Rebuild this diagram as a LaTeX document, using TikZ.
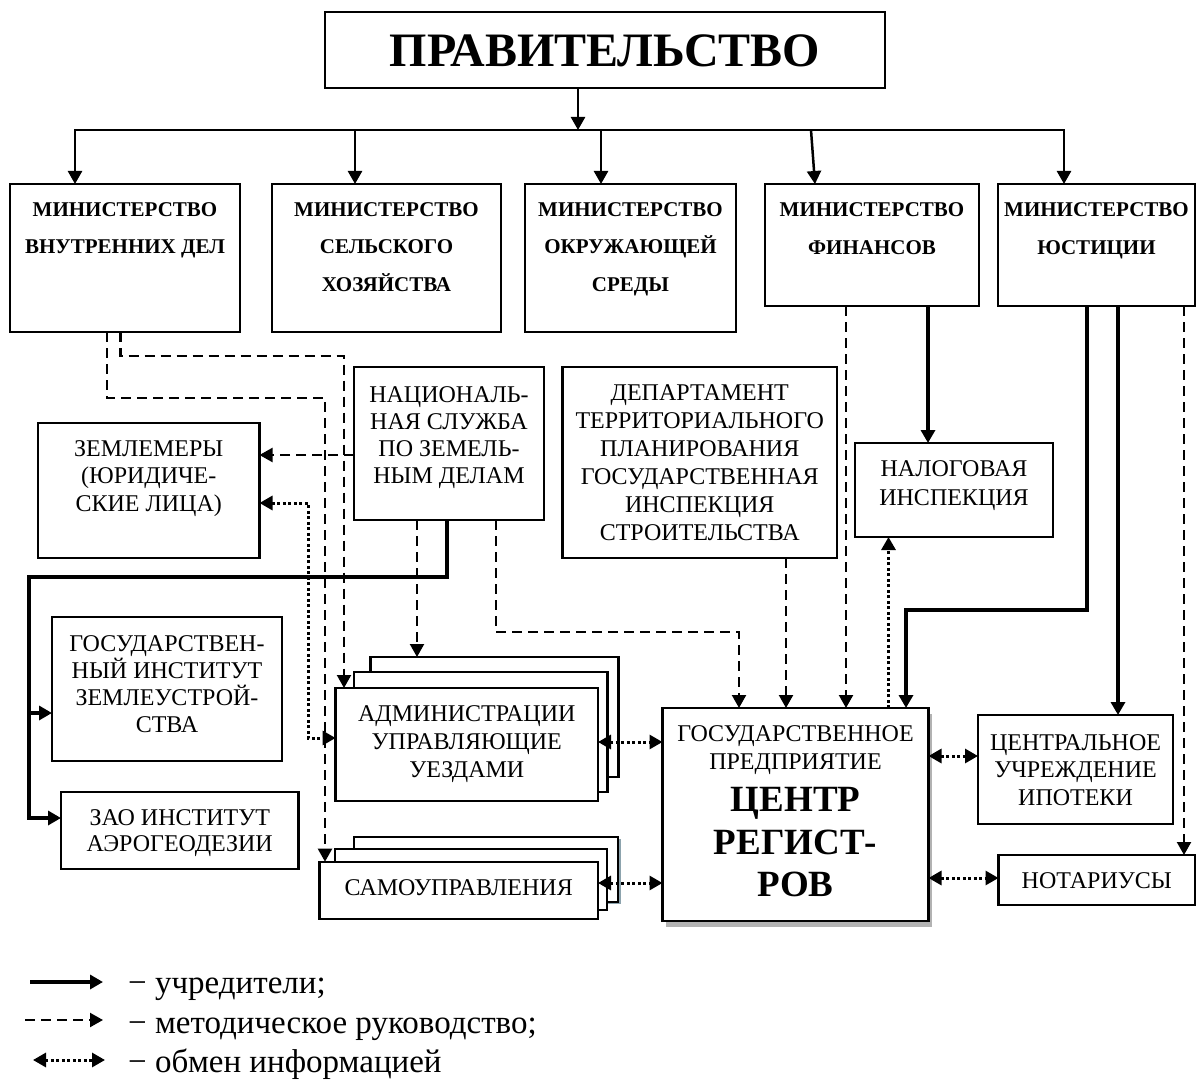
\documentclass[tikz,border=0pt]{standalone}
\usepackage{fontspec}
\setmainfont{Liberation Serif}
\usetikzlibrary{arrows.meta,shadows}
\definecolor{shd}{HTML}{8CA3AD}
\newcommand{\bt}[4]{\parbox[c][#2][t]{#1}{\centering\vspace*{#3}#4\par}}
\newcommand{\fs}{\rule{0pt}{1em}}
\newcommand{\mfont}{\fontsize{21}{37.5}\selectfont\bfseries}
\newcommand{\rfont}[1]{\fontsize{24}{#1}\selectfont}
\begin{document}
\begin{tikzpicture}[x=1pt,y=-1pt,
  >={Triangle[length=13pt,width=14pt]},
  bx/.style={draw,line width=2.4pt,fill=white,inner sep=0pt,outer sep=0pt},
  bus/.style={line width=2.5pt},
  fnd/.style={line width=3.5pt},
  meth/.style={line width=2.2pt,dash pattern=on 10pt off 6pt},
  info/.style={line width=3pt,dash pattern=on 3pt off 2.5pt},
  lgd/.style={anchor=base west,inner sep=0pt,font=\fontsize{33}{38}\selectfont}]
\useasboundingbox (0,0) rectangle (1196,1083);

% top
\node[bx] (gov) at (605,50) {\bt{560pt}{76pt}{7pt}{\fontsize{48}{56}\selectfont\bfseries\fs ПРАВИТЕЛЬСТВО}};

% ministries
\node[bx] (mvd) at (125,258) {\bt{230pt}{148pt}{11.5pt}{\mfont\fs МИНИСТЕРСТВО\\ВНУТРЕННИХ ДЕЛ}};
\node[bx] (sel) at (386.5,258) {\bt{229pt}{148pt}{11.5pt}{\mfont\fs МИНИСТЕРСТВО\\СЕЛЬСКОГО\\ХОЗЯЙСТВА}};
\node[bx] (okr) at (630.5,258) {\bt{211pt}{148pt}{11.5pt}{\mfont\fs МИНИСТЕРСТВО\\ОКРУЖАЮЩЕЙ\\СРЕДЫ}};
\node[bx] (fin) at (872,245) {\bt{214pt}{122pt}{11.5pt}{\mfont\fs МИНИСТЕРСТВО\\ФИНАНСОВ}};
\node[bx] (jus) at (1096.5,245) {\bt{197pt}{122pt}{11.5pt}{\mfont\fs МИНИСТЕРСТВО\\ЮСТИЦИИ}};

% middle level
\node[bx] (nszd) at (449,443.5) {\bt{190pt}{153pt}{11pt}{\rfont{27.3}\fs НАЦИОНАЛЬ-\\НАЯ СЛУЖБА\\ПО ЗЕМЕЛЬ-\\НЫМ ДЕЛАМ}};
\node[bx] (zem) at (148.75,490.5) {\bt{221.5pt}{135pt}{9pt}{\rfont{27.5}\fs ЗЕМЛЕМЕРЫ\\(ЮРИДИЧЕ-\\СКИЕ ЛИЦА)}};
\node[bx] (dep) at (699.75,462.5) {\bt{274.5pt}{191pt}{9pt}{\rfont{28}\fs ДЕПАРТАМЕНТ\\ТЕРРИТОРИАЛЬНОГО\\ПЛАНИРОВАНИЯ\\ГОСУДАРСТВЕННАЯ\\ИНСПЕКЦИЯ\\СТРОИТЕЛЬСТВА}};
\node[bx] (nal) at (954,490) {\bt{198pt}{94pt}{9pt}{\rfont{29}\fs НАЛОГОВАЯ\\ИНСПЕКЦИЯ}};

% left column
\node[bx] (giz) at (167,689) {\bt{230pt}{144pt}{10pt}{\rfont{27.3}\fs ГОСУДАРСТВЕН-\\НЫЙ ИНСТИТУТ\\ЗЕМЛЕУСТРОЙ-\\СТВА}};
\node[bx] (zao) at (179.75,830.5) {\bt{237.5pt}{77pt}{9pt}{\rfont{26}\fs ЗАО ИНСТИТУТ\\АЭРОГЕОДЕЗИИ}};

% stacked administrations
\node[bx,minimum width=248pt,minimum height=120pt] (admb) at (494.5,717) {};
\node[bx,minimum width=253.5pt,minimum height=120pt] (admm) at (480.75,732) {};
\node[bx] (adm) at (466.8,744.35) {\bt{262.4pt}{112.7pt}{9pt}{\rfont{28}\fs АДМИНИСТРАЦИИ\\УПРАВЛЯЮЩИЕ\\УЕЗДАМИ}};

% stacked self-governments
\node[bx,minimum width=264pt,minimum height=65pt,drop shadow={shadow xshift=2.5pt,shadow yshift=-2pt,fill=shd,opacity=1}] (samb) at (486,869.5) {};
\node[bx,minimum width=272pt,minimum height=61pt] (samm) at (471,879.5) {};
\node[bx] (sam) at (458.75,890.35) {\bt{278.5pt}{57.3pt}{9.3pt}{\rfont{28}\fs САМОУПРАВЛЕНИЯ}};

% centre of registers
\node[bx,drop shadow={shadow xshift=3.5pt,shadow yshift=-5.5pt,fill=black!30,opacity=1}] (crs) at (795.5,814.5)
  {\bt{266pt}{213pt}{9pt}{\rfont{28}\fs ГОСУДАРСТВЕННОЕ\\ПРЕДПРИЯТИЕ\par{\fontsize{37}{42.5}\selectfont\bfseries ЦЕНТР\\РЕГИСТ-\\РОВ\par}}};

% right column
\node[bx] (cui) at (1075.5,769.5) {\bt{195pt}{109pt}{11pt}{\rfont{27.5}\fs ЦЕНТРАЛЬНОЕ\\УЧРЕЖДЕНИЕ\\ИПОТЕКИ}};
\node[bx] (nota) at (1096.75,880) {\bt{196.5pt}{50pt}{9pt}{\rfont{28}\fs НОТАРИУСЫ}};

% ---- bus from government
\coordinate (bL) at (75,130);
\coordinate (bR) at (1064,130);
\coordinate (bj) at (578,130);
\coordinate (bS) at (355,130);
\coordinate (bO) at (601,130);
\coordinate (bF) at (811,130);
\coordinate (xF) at (815,0);
\draw[bus,->] (gov.south -| bj) -- (bj);
\draw[bus,<->] (mvd.north -| bL) -- (bL) -- (bR) -- (jus.north -| bR);
\draw[bus,->] (bS) -- (sel.north -| bS);
\draw[bus,->] (bO) -- (okr.north -| bO);
\draw[bus,->] (bF) -- (fin.north -| xF);

% ---- from interior ministry
\coordinate (m1) at (120.5,356);
\coordinate (m2) at (344,356);
\coordinate (m3) at (107,398);
\coordinate (m4) at (325,398);
\draw[meth,->] (mvd.south -| m1) -- (m1) -- (m2) -- (adm.north -| m2);
\draw[meth,->] (mvd.south -| m3) -- (m3) -- (m4) -- (sam.north -| m4);

% ---- from national land service
\coordinate (n1) at (0,455);
\draw[meth,->] (nszd.west |- n1) -- (zem.east |- n1);
\coordinate (s1) at (447,577);
\coordinate (s2) at (29,577);
\coordinate (s3) at (29,713);
\coordinate (s4) at (29,818);
\draw[fnd,->] (nszd.south -| s1) -- (s1) -- (s2) -- (s4) -- (zao.west |- s4);
\draw[fnd,->] (s3) -- (giz.west |- s3);
\coordinate (n2) at (417,0);
\draw[meth,->] (nszd.south -| n2) -- (admb.north -| n2);
\coordinate (n3) at (496,632);
\coordinate (n4) at (739,632);
\draw[meth,->] (nszd.south -| n3) -- (n3) -- (n4) -- (crs.north -| n4);

% ---- surveyors <-> administrations
\coordinate (d1) at (308,503);
\coordinate (d2) at (308,738);
\draw[info,<->] (zem.east |- d1) -- (d1) -- (d2) -- (adm.west |- d2);

% ---- department
\coordinate (p1) at (786,0);
\draw[meth,->] (dep.south -| p1) -- (crs.north -| p1);

% ---- finance
\coordinate (f1) at (846,0);
\coordinate (f2) at (928,0);
\coordinate (f3) at (888.5,0);
\draw[meth,->] (fin.south -| f1) -- (crs.north -| f1);
\draw[fnd,->] (fin.south -| f2) -- (nal.north -| f2);
\draw[info,->] (crs.north -| f3) -- (nal.south -| f3);

% ---- justice
\coordinate (j1) at (1087,610);
\coordinate (j2) at (906,610);
\coordinate (j3) at (1118,0);
\coordinate (j4) at (1184,0);
\draw[fnd,->] (jus.south -| j1) -- (j1) -- (j2) -- (crs.north -| j2);
\draw[fnd,->] (jus.south -| j3) -- (cui.north -| j3);
\draw[meth,->] (jus.south -| j4) -- (nota.north -| j4);

% ---- information exchange
\coordinate (i1) at (0,742);
\coordinate (i2) at (0,883);
\coordinate (i3) at (0,756);
\coordinate (i4) at (0,878);
\draw[info,<->] (adm.east |- i1) -- (crs.west |- i1);
\draw[info,<->] (sam.east |- i2) -- (crs.west |- i2);
\draw[info,<->] (crs.east |- i3) -- (cui.west |- i3);
\draw[info,<->] (crs.east |- i4) -- (nota.west |- i4);

% ---- legend
\coordinate (la1) at (30,982);
\coordinate (la2) at (103,982);
\coordinate (lb1) at (25,1020);
\coordinate (lb2) at (103,1020);
\coordinate (lc1) at (33,1060);
\coordinate (lc2) at (105,1060);
\draw[fnd,->] (la1) -- (la2);
\draw[meth,->] (lb1) -- (lb2);
\draw[info,<->] (lc1) -- (lc2);
\node[lgd] (lt1) at (128,993) {− учредители;};
\node[lgd] (lt2) at (128,1033) {− методическое руководство;};
\node[lgd] (lt3) at (128,1072) {− обмен информацией};
\end{tikzpicture}
\end{document}
